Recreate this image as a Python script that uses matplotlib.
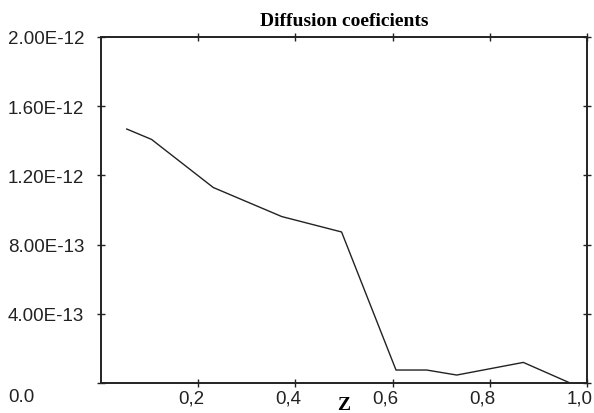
import matplotlib
matplotlib.use("Agg")
import matplotlib.pyplot as plt
import matplotlib.transforms as mtransforms

# valores
z = [0.053, 0.104, 0.231, 0.372, 0.495, 0.607, 0.670, 0.732, 0.869, 0.962]
diff = [1.468e-12, 1.408e-12, 1.130e-12, 0.962e-12, 0.873e-12,
        0.075e-12, 0.075e-12, 0.046e-12, 0.119e-12, 0.004e-12]

xticks = [0.2, 0.4, 0.6, 0.8, 1.0]
xlabels = ["0,2", "0,4", "0,6", "0,8", "1,0"]
yticks = [0.0, 4e-13, 8e-13, 1.2e-12, 1.6e-12, 2e-12]
ylabels = ["0.0", "4.00E-13", "8.00E-13", "1.20E-12", "1.60E-12", "2.00E-12"]

fig = plt.figure(figsize=(5.94, 4.14), dpi=100)
ax = fig.add_axes([101 / 594, 1 - 384 / 414, 486 / 594, 346 / 414])

ax.plot(z, diff, color="#222222", lw=1.0)
ax.set_xlim(0, 1)
ax.set_ylim(0, 2e-12)

ax.set_xticks(xticks)
ax.set_xticklabels(xlabels, fontfamily="Liberation Sans", fontsize=13.5, color="#222222")
ax.set_yticks(yticks)
ax.set_yticklabels(ylabels, fontfamily="Liberation Sans", fontsize=13.5, color="#222222")

ax.tick_params(direction="inout", length=6, width=1.0, top=True, right=True,
               color="#222222")
ax.tick_params(axis="x", pad=2)
ax.tick_params(axis="y", pad=64)
for lab in ax.get_yticklabels():
    lab.set_horizontalalignment("left")
# rótulos do eixo x ficam um pouco à esquerda das marcas
for lab in ax.get_xticklabels():
    lab.set_transform(lab.get_transform() +
                      mtransforms.ScaledTranslation(-7 / 100, 0, fig.dpi_scale_trans))
# o rótulo "0.0" fica na linha dos rótulos do eixo x
zero_lab = ax.get_yticklabels()[0]
zero_lab.set_transform(zero_lab.get_transform() +
                       mtransforms.ScaledTranslation(0, -12 / 100, fig.dpi_scale_trans))

for sp in ax.spines.values():
    sp.set_linewidth(1.4)
    sp.set_color("#222222")

ax.set_title("Diffusion coeficients", fontfamily="Liberation Serif", fontweight="bold",
             fontsize=14, pad=9)
fig.text(344 / 594, 1 - 406 / 414, "Z", fontfamily="Liberation Serif", fontweight="bold",
         fontsize=14, ha="center", va="center")

fig.savefig("out.png", dpi=100)
